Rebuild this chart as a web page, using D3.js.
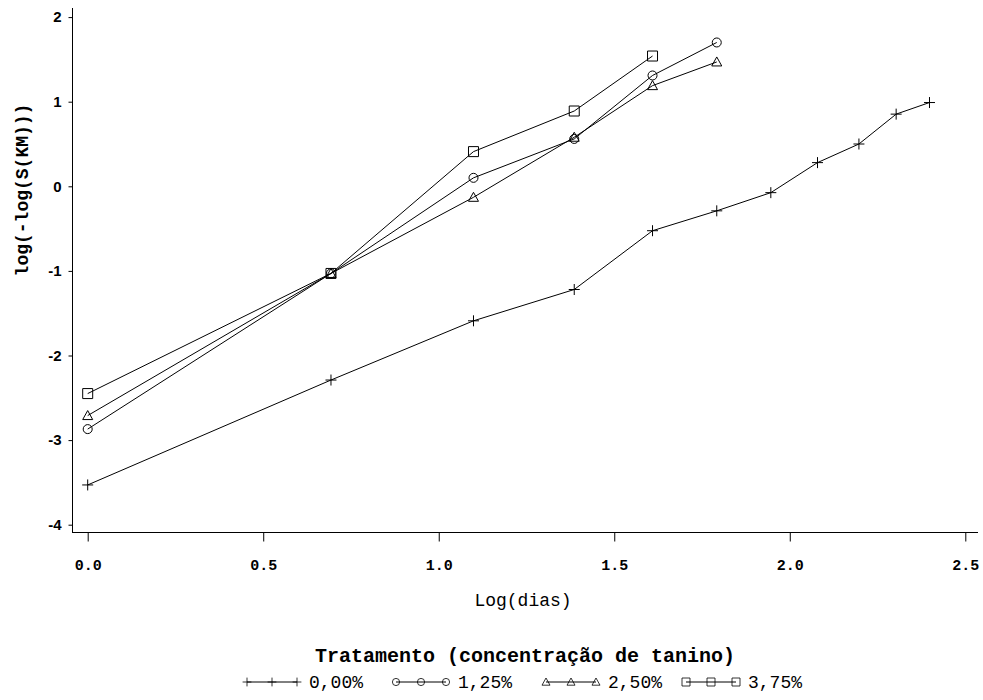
<!DOCTYPE html>
<meta charset="utf-8">
<style>
  body { margin: 0; background: #fff; }
  svg { display: block; }
  .line { fill: none; stroke: #000; stroke-width: 1; }
  .mark { fill: none; stroke: #000; stroke-width: 1; }
  .ax line, .ax path { stroke: #000; }
</style>
<svg width="983" height="700"></svg>
<script src="https://d3js.org/d3.v7.min.js"></script>
<script>
  // log(days) for each treatment
  var xAll = [0, 0.693, 1.099, 1.386, 1.609, 1.792, 1.946, 2.079, 2.197, 2.303, 2.398];

  var names = ["0,00%", "1,25%", "2,50%", "3,75%"];
  var shapes = ["plus", "circle", "triangle", "square"];

  var y000 = [-3.53, -2.29, -1.59, -1.22, -0.525, -0.29, -0.075, 0.28, 0.50, 0.853, 0.99];
  var y125 = [-2.87, -1.03, 0.10, 0.56, 1.31, 1.70];
  var y250 = [-2.71, -1.03, -0.13, 0.58, 1.19, 1.47];
  var y375 = [-2.45, -1.03, 0.41, 0.89, 1.54];

  var xTicks = [0, 0.5, 1.0, 1.5, 2.0, 2.5];
  var yTicks = [-4, -3, -2, -1, 0, 1, 2];

  var series = [y000, y125, y250, y375].map(function(vals, i) {
    return {
      name: names[i],
      shape: shapes[i],
      points: vals.map(function(v, j) { return [xAll[j], v]; })
    };
  });

  var svg = d3.select("svg");

  var x = d3.scaleLinear().domain([0, 2.5]).range([87.7, 965.3]);
  var y = d3.scaleLinear().domain([-4, 2]).range([524.7, 17.1]);

  function marker(shape) {
    if (shape === "plus") return "M-5.5,0H5.5M0,-5.5V5.5";
    if (shape === "circle") return "M4.5,0A4.5,4.5 0 1,1 -4.5,0A4.5,4.5 0 1,1 4.5,0Z";
    if (shape === "triangle") return "M0,-5L5,4H-5Z";
    return "M-5,-5H5V5H-5Z";
  }

  // axes
  var xAxis = svg.append("g")
    .attr("class", "ax")
    .attr("transform", "translate(0,532.5)")
    .call(d3.axisBottom(x).tickValues(xTicks).tickSize(9).tickSizeOuter(0).tickFormat(d3.format(".1f")));
  xAxis.select(".domain").remove();
  xAxis.selectAll("text")
    .attr("y", 27)
    .attr("font-family", "Liberation Mono, monospace")
    .attr("font-weight", "bold")
    .attr("font-size", "15px")
    .attr("fill", "#000");

  var yAxis = svg.append("g")
    .attr("class", "ax")
    .attr("transform", "translate(72.5,0)")
    .call(d3.axisLeft(y).tickValues(yTicks).tickSize(4).tickSizeOuter(0).tickFormat(function(d) { return String(d); }));
  yAxis.select(".domain").remove();
  yAxis.selectAll("text")
    .attr("x", -11)
    .attr("font-family", "Liberation Sans, Arial, sans-serif")
    .attr("font-weight", "bold")
    .attr("font-size", "15px")
    .attr("fill", "#000");

  svg.append("line").attr("x1", 72.5).attr("x2", 72.5).attr("y1", 8).attr("y2", 533)
    .attr("stroke", "#000");
  svg.append("line").attr("x1", 72).attr("x2", 978).attr("y1", 532.5).attr("y2", 532.5)
    .attr("stroke", "#000");

  // axis titles
  svg.append("text")
    .attr("transform", "translate(28,190) rotate(-90)")
    .attr("text-anchor", "middle")
    .attr("font-family", "Liberation Mono, monospace")
    .attr("font-weight", "bold")
    .attr("font-size", "18px")
    .text("log(-log(S(KM)))");

  svg.append("text")
    .attr("x", 523)
    .attr("y", 606)
    .attr("text-anchor", "middle")
    .attr("font-family", "Liberation Mono, monospace")
    .attr("font-size", "18px")
    .text("Log(dias)");

  // lines and markers
  var line = d3.line()
    .x(function(d) { return x(d[0]); })
    .y(function(d) { return y(d[1]); });

  var sg = svg.selectAll(".series")
    .data(series)
    .enter().append("g")
    .attr("class", "series");

  sg.append("path")
    .attr("class", "line")
    .attr("d", function(d) { return line(d.points); });

  sg.each(function(s) {
    d3.select(this).selectAll(".mark")
      .data(s.points)
      .enter().append("path")
      .attr("class", "mark")
      .attr("transform", function(d) { return "translate(" + x(d[0]) + "," + y(d[1]) + ")"; })
      .attr("d", marker(s.shape));
  });

  // legend
  svg.append("text")
    .attr("x", 525)
    .attr("y", 662)
    .attr("text-anchor", "middle")
    .attr("font-family", "Liberation Mono, monospace")
    .attr("font-weight", "bold")
    .attr("font-size", "20px")
    .text("Tratamento (concentração de tanino)");

  var legX = [247, 396, 546, 686];
  var lg = svg.selectAll(".leg")
    .data(series)
    .enter().append("g")
    .attr("class", "leg")
    .attr("transform", function(d, i) { return "translate(" + legX[i] + ",682)"; });

  lg.append("line")
    .attr("x1", 0).attr("x2", 50)
    .attr("stroke", "#000");

  lg.each(function(s) {
    d3.select(this).selectAll(".mark")
      .data([0, 25, 50])
      .enter().append("path")
      .attr("class", "mark")
      .attr("transform", function(d) { return "translate(" + d + ",0) scale(0.8)"; })
      .attr("d", marker(s.shape));
  });

  lg.append("text")
    .attr("x", 62)
    .attr("y", 6)
    .attr("font-family", "Liberation Mono, monospace")
    .attr("font-size", "18px")
    .text(function(d) { return d.name; });
</script>
